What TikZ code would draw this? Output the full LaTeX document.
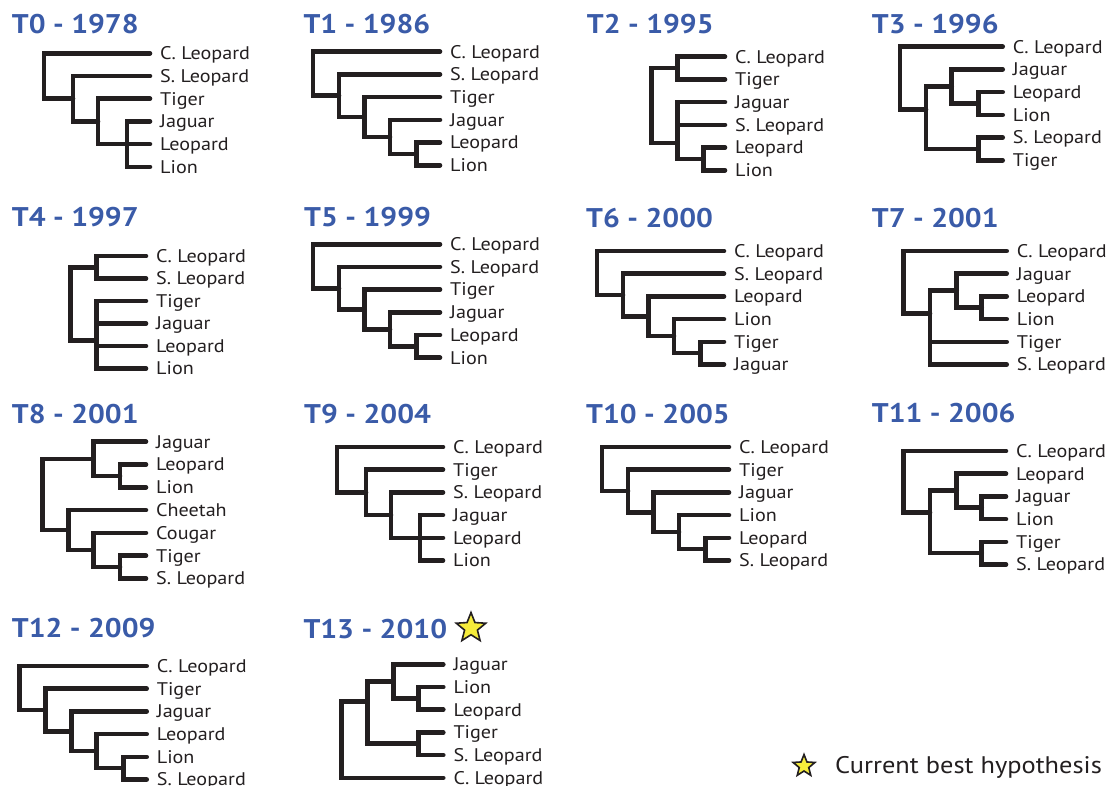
\documentclass[tikz,border=0pt]{standalone}
\usepackage{fontspec}
\setmainfont{PT Sans}[FakeStretch=1.1]
\usetikzlibrary{shapes.geometric}
\definecolor{ink}{HTML}{231F20}
\definecolor{ttl}{HTML}{3A5BA8}
\definecolor{stary}{HTML}{F5EC3B}
\tikzset{
 branch/.style={draw=ink, line width=4.6pt, line cap=round, line join=miter},
 leaflab/.style={anchor=base west, inner sep=0pt, yshift=-6.3pt, font=\fontsize{18.3}{20}\selectfont, text=ink},
 ttlab/.style={anchor=base west, inner sep=0pt, font=\fontsize{27}{30}\selectfont\bfseries, text=ttl},
 starmark/.style={star, star points=5, star point ratio=2.3, fill=stary, draw=ink, line width=1.6pt, inner sep=0pt, minimum size=#1},
}
\newcommand\lf[3]{\coordinate (#1) at (0,#2); \node[leaflab] (#1l) at (10,#2) {#3};}
\newcommand\nd[3]{\coordinate (#1) at (#2,#3);}
\newcommand\br[2]{\draw[branch] (#1) |- (#2);}
% ladder of five nested clades
\newcommand\ladfive[7]{%
 \lf{#1a}{0}{#2}\lf{#1b}{1}{#3}\lf{#1c}{2}{#4}\lf{#1d}{3}{#5}\lf{#1e}{4}{#6}\lf{#1f}{5}{#7}
 \nd{#1n5}{-23.5}{4.5}\nd{#1n4}{-50}{3.75}\nd{#1n3}{-75.5}{2.875}\nd{#1n2}{-101}{1.94}\nd{#1r}{-127}{0.97}
 \br{#1r}{#1a}\br{#1r}{#1n2}\br{#1n2}{#1b}\br{#1n2}{#1n3}\br{#1n3}{#1c}\br{#1n3}{#1n4}
 \br{#1n4}{#1d}\br{#1n4}{#1n5}\br{#1n5}{#1e}\br{#1n5}{#1f}}
% ladder ending in a trichotomy
\newcommand\ladtri[7]{%
 \lf{#1a}{0}{#2}\lf{#1b}{1}{#3}\lf{#1c}{2}{#4}\lf{#1d}{3}{#5}\lf{#1e}{4}{#6}\lf{#1f}{5}{#7}
 \nd{#1n4}{-23}{4}\nd{#1n3}{-52}{3}\nd{#1n2}{-77}{2}\nd{#1r}{-106}{1}
 \br{#1r}{#1a}\br{#1r}{#1n2}\br{#1n2}{#1b}\br{#1n2}{#1n3}\br{#1n3}{#1c}\br{#1n3}{#1n4}
 \br{#1n4}{#1d}\br{#1n4}{#1e}\br{#1n4}{#1f}}
\begin{document}
\begin{tikzpicture}
\useasboundingbox (0,0) rectangle (1111pt,-785pt);
% titles
\node[ttlab] (h0) at (11.7pt,-33pt) {T0 - 1978};
\node[ttlab] (h1) at (303.3pt,-33.3pt) {T1 - 1986};
\node[ttlab] (h2) at (586.7pt,-33.3pt) {T2 - 1995};
\node[ttlab] (h3) at (871.7pt,-33.3pt) {T3 - 1996};
\node[ttlab] (h4) at (11.7pt,-226.7pt) {T4 - 1997};
\node[ttlab] (h5) at (304pt,-226.5pt) {T5 - 1999};
\node[ttlab] (h6) at (586pt,-227.3pt) {T6 - 2000};
\node[ttlab] (h7) at (871.7pt,-227pt) {T7 - 2001};
\node[ttlab] (h8) at (11.7pt,-423.3pt) {T8 - 2001};
\node[ttlab] (h9) at (304pt,-423pt) {T9 - 2004};
\node[ttlab] (h10) at (586pt,-423pt) {T10 - 2005};
\node[ttlab] (h11) at (871.7pt,-422.3pt) {T11 - 2006};
\node[ttlab] (h12) at (11.7pt,-637.3pt) {T12 - 2009};
\node[ttlab] (h13) at (303.3pt,-638.3pt) {T13 - 2010};
\node[starmark=31pt] (s13) at (471pt,-628pt) {};
% legend
\node[starmark=23pt] (sleg) at (804pt,-766pt) {};
\node[anchor=base west, inner sep=0pt, font=\fontsize{24}{28}\selectfont, text=ink] (leg) at (835pt,-773pt) {Current best hypothesis};
% T0
\begin{scope}[shift={(150pt,-53.3pt)},x=1pt,y=-22.7pt]
\ladtri{t0-}{C. Leopard}{S. Leopard}{Tiger}{Jaguar}{Leopard}{Lion}
\end{scope}
% T1
\begin{scope}[shift={(440pt,-51.7pt)},x=1pt,y=-22.7pt]
\ladfive{t1-}{C. Leopard}{S. Leopard}{Tiger}{Jaguar}{Leopard}{Lion}
\end{scope}
% T2
\begin{scope}[shift={(725pt,-56.7pt)},x=1pt,y=-22.7pt]
\lf{t2-cl}{0}{C. Leopard}\lf{t2-ti}{1}{Tiger}\lf{t2-ja}{2}{Jaguar}\lf{t2-sl}{3}{S. Leopard}\lf{t2-le}{4}{Leopard}\lf{t2-li}{5}{Lion}
\nd{t2-c}{-21.7}{4.5}\nd{t2-b}{-47.7}{3.8}\nd{t2-a}{-47.7}{0.5}\nd{t2-r}{-73.3}{2}
\br{t2-r}{t2-a}\br{t2-r}{t2-b}\br{t2-a}{t2-cl}\br{t2-a}{t2-ti}
\br{t2-b}{t2-ja}\br{t2-b}{t2-sl}\br{t2-b}{t2-c}\br{t2-c}{t2-le}\br{t2-c}{t2-li}
\end{scope}
% T3
\begin{scope}[shift={(1002.7pt,-46.7pt)},x=1pt,y=-22.7pt]
\lf{t3-cl}{0}{C. Leopard}\lf{t3-ja}{1}{Jaguar}\lf{t3-le}{2}{Leopard}\lf{t3-li}{3}{Lion}\lf{t3-sl}{4}{S. Leopard}\lf{t3-ti}{5}{Tiger}
\nd{t3-c}{-24.4}{2.5}\nd{t3-d}{-24.4}{4.5}\nd{t3-b}{-51}{1.75}\nd{t3-a}{-76.7}{2.76}\nd{t3-r}{-102.7}{1}
\br{t3-r}{t3-cl}\br{t3-r}{t3-a}\br{t3-a}{t3-b}\br{t3-a}{t3-d}\br{t3-b}{t3-ja}\br{t3-b}{t3-c}
\br{t3-c}{t3-le}\br{t3-c}{t3-li}\br{t3-d}{t3-sl}\br{t3-d}{t3-ti}
\end{scope}
% T4
\begin{scope}[shift={(146pt,-256pt)},x=1pt,y=-22.5pt]
\lf{t4-cl}{0}{C. Leopard}\lf{t4-sl}{1}{S. Leopard}\lf{t4-ti}{2}{Tiger}\lf{t4-ja}{3}{Jaguar}\lf{t4-le}{4}{Leopard}\lf{t4-li}{5}{Lion}
\nd{t4-a}{-49.3}{0.5}\nd{t4-b}{-49.3}{3.75}\nd{t4-r}{-75.3}{2}
\br{t4-r}{t4-a}\br{t4-r}{t4-b}\br{t4-a}{t4-cl}\br{t4-a}{t4-sl}
\br{t4-b}{t4-ti}\br{t4-b}{t4-ja}\br{t4-b}{t4-le}\br{t4-b}{t4-li}
\end{scope}
% T5
\begin{scope}[shift={(440pt,-244.2pt)},x=1pt,y=-22.7pt]
\ladfive{t5-}{C. Leopard}{S. Leopard}{Tiger}{Jaguar}{Leopard}{Lion}
\end{scope}
% T6
\begin{scope}[shift={(724pt,-251pt)},x=1pt,y=-22.7pt]
\ladfive{t6-}{C. Leopard}{S. Leopard}{Leopard}{Lion}{Tiger}{Jaguar}
\end{scope}
% T7
\begin{scope}[shift={(1006.7pt,-251pt)},x=1pt,y=-22.7pt]
\lf{t7-cl}{0}{C. Leopard}\lf{t7-ja}{1}{Jaguar}\lf{t7-le}{2}{Leopard}\lf{t7-li}{3}{Lion}\lf{t7-ti}{4}{Tiger}\lf{t7-sl}{5}{S. Leopard}
\nd{t7-c}{-25}{2.5}\nd{t7-b}{-50}{1.75}\nd{t7-a}{-76.7}{2.75}\nd{t7-r}{-103.4}{1}
\br{t7-r}{t7-cl}\br{t7-r}{t7-a}\br{t7-a}{t7-b}\br{t7-a}{t7-ti}\br{t7-a}{t7-sl}
\br{t7-b}{t7-ja}\br{t7-b}{t7-c}\br{t7-c}{t7-le}\br{t7-c}{t7-li}
\end{scope}
% T8
\begin{scope}[shift={(146pt,-441.7pt)},x=1pt,y=-22.8pt]
\lf{t8-ja}{0}{Jaguar}\lf{t8-le}{1}{Leopard}\lf{t8-li}{2}{Lion}\lf{t8-ch}{3}{Cheetah}\lf{t8-co}{4}{Cougar}\lf{t8-ti}{5}{Tiger}\lf{t8-sl}{6}{S. Leopard}
\nd{t8-c}{-26}{1.5}\nd{t8-a}{-52.7}{0.75}\nd{t8-f}{-26}{5.5}\nd{t8-e}{-52.7}{4.75}\nd{t8-d}{-77.7}{3.875}\nd{t8-r}{-103.3}{2.3}
\br{t8-r}{t8-a}\br{t8-r}{t8-d}\br{t8-a}{t8-ja}\br{t8-a}{t8-c}\br{t8-c}{t8-le}\br{t8-c}{t8-li}
\br{t8-d}{t8-ch}\br{t8-d}{t8-e}\br{t8-e}{t8-co}\br{t8-e}{t8-f}\br{t8-f}{t8-ti}\br{t8-f}{t8-sl}
\end{scope}
% T9
\begin{scope}[shift={(443pt,-447pt)},x=1pt,y=-22.7pt]
\ladtri{t9-}{C. Leopard}{Tiger}{S. Leopard}{Jaguar}{Leopard}{Lion}
\end{scope}
% T10
\begin{scope}[shift={(729pt,-447pt)},x=1pt,y=-22.7pt]
\ladfive{t10-}{C. Leopard}{Tiger}{Jaguar}{Lion}{Leopard}{S. Leopard}
\end{scope}
% T11
\begin{scope}[shift={(1006pt,-451pt)},x=1pt,y=-22.7pt]
\lf{t11-cl}{0}{C. Leopard}\lf{t11-le}{1}{Leopard}\lf{t11-ja}{2}{Jaguar}\lf{t11-li}{3}{Lion}\lf{t11-ti}{4}{Tiger}\lf{t11-sl}{5}{S. Leopard}
\nd{t11-c}{-24.3}{2.5}\nd{t11-d}{-24.3}{4.5}\nd{t11-b}{-49.3}{1.75}\nd{t11-a}{-76}{2.7}\nd{t11-r}{-102.7}{1}
\br{t11-r}{t11-cl}\br{t11-r}{t11-a}\br{t11-a}{t11-b}\br{t11-a}{t11-d}\br{t11-b}{t11-le}\br{t11-b}{t11-c}
\br{t11-c}{t11-ja}\br{t11-c}{t11-li}\br{t11-d}{t11-ti}\br{t11-d}{t11-sl}
\end{scope}
% T12
\begin{scope}[shift={(146.7pt,-666pt)},x=1pt,y=-22.7pt]
\ladfive{t12-}{C. Leopard}{Tiger}{Jaguar}{Leopard}{Lion}{S. Leopard}
\end{scope}
% T13
\begin{scope}[shift={(443.3pt,-664.3pt)},x=1pt,y=-22.7pt]
\lf{t13-ja}{0}{Jaguar}\lf{t13-li}{1}{Lion}\lf{t13-le}{2}{Leopard}\lf{t13-ti}{3}{Tiger}\lf{t13-sl}{4}{S. Leopard}\lf{t13-cl}{5}{C. Leopard}
\nd{t13-c}{-25}{1.5}\nd{t13-b}{-50}{0.75}\nd{t13-d}{-25}{3.5}\nd{t13-a}{-76}{1.65}\nd{t13-r}{-101.6}{3}
\br{t13-r}{t13-a}\br{t13-r}{t13-cl}\br{t13-a}{t13-b}\br{t13-a}{t13-d}\br{t13-b}{t13-ja}\br{t13-b}{t13-c}
\br{t13-c}{t13-li}\br{t13-c}{t13-le}\br{t13-d}{t13-ti}\br{t13-d}{t13-sl}
\end{scope}
\end{tikzpicture}
\end{document}
